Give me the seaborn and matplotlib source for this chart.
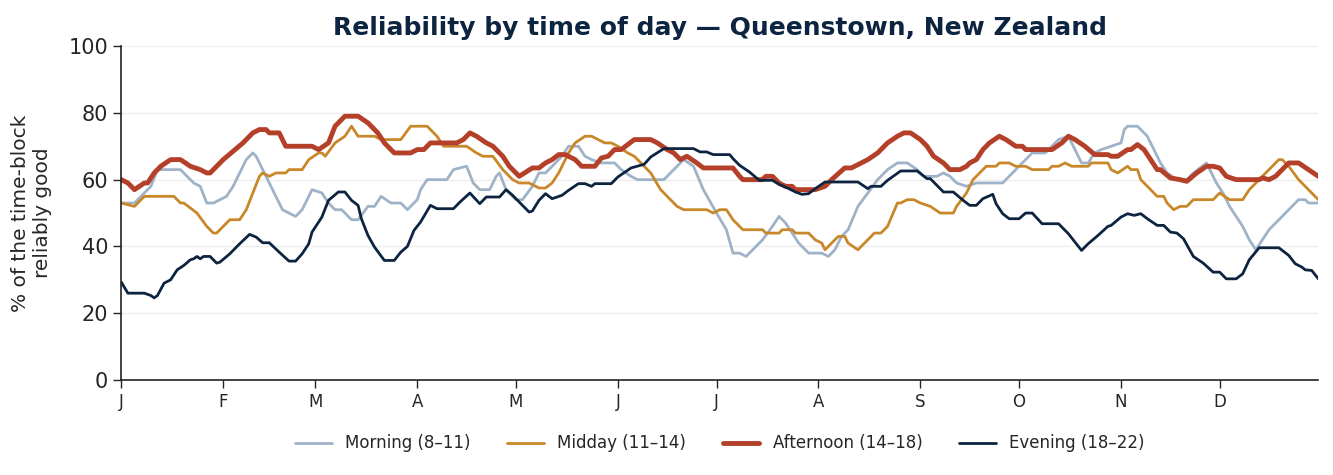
import pandas as pd
import numpy as np
import matplotlib
matplotlib.use('Agg')
import matplotlib.pyplot as plt
import matplotlib.dates as mdates
import seaborn as sns

# day-of-year positions and % reliably good
morning_day = [0, 4, 7, 9, 11, 13, 18, 22, 24, 26, 28, 30, 32, 34, 36, 38, 40, 41, 44, 47, 49, 51, 53, 55, 58,
               61, 63, 65, 67, 70, 72, 75, 77, 79, 82, 85, 87, 90, 91, 93, 99, 101, 105, 107, 109, 112, 114, 115, 117, 120,
               122, 125, 127, 129, 131, 134, 136, 139, 141, 143, 146, 150, 152, 155, 157, 165, 167, 169, 171, 174, 177, 181,
               184, 186, 188, 190, 192, 195, 198, 200, 202, 204, 206, 209, 213, 215, 217, 219, 221, 224, 227, 230, 233, 236, 239, 242,
               244, 248, 250, 252, 254, 257, 260, 268, 271, 274, 277, 281, 285, 288, 290, 292, 294, 296, 298, 301, 304,
               305, 306, 309, 312, 314, 316, 318, 321, 324, 326, 330, 333, 335, 337, 339, 341, 343, 345, 347, 349, 352, 355, 358, 360, 361, 364]
morning_pct = [53, 53, 56, 58, 63, 63, 63, 59, 58, 53, 53, 54, 55, 58, 62, 66, 68, 67, 61, 55, 51, 50, 49, 51, 57,
               56, 53, 51, 51, 48, 48, 52, 52, 55, 53, 53, 51, 54, 57, 60, 60, 63, 64, 59, 57, 57, 61, 62, 57, 54,
               54, 58, 62, 62, 64, 67, 70, 70, 67, 66, 65, 65, 63, 61, 60, 60, 62, 64, 66, 64, 57, 50,
               45, 38, 38, 37, 39, 42, 46, 49, 47, 44, 41, 38, 38, 37, 39, 43, 45, 52, 56, 60, 63, 65, 65, 63,
               61, 61, 62, 61, 59, 58, 59, 59, 62, 65, 68, 68, 72, 73, 69, 65, 65, 68, 69, 70, 71,
               75, 76, 76, 73, 69, 65, 62, 60, 60, 62, 65, 59, 56, 52, 49, 46, 42, 39, 42, 45, 48, 51, 54, 54, 53, 53]

midday_day = [0, 4, 7, 16, 18, 19, 23, 26, 28, 29, 31, 33, 36, 38, 40, 42, 43, 45, 47, 50, 51, 55, 57, 60,
              61, 62, 65, 68, 70, 72, 77, 79, 85, 88, 93, 96, 98, 105, 108, 110, 113, 116, 119, 121,
              124, 127, 129, 131, 133, 136, 138, 141, 143, 145, 147, 149, 151, 154, 156, 159, 161, 164, 166, 169, 171, 178, 180, 182,
              184, 186, 189, 195, 196, 200, 201, 204, 205, 209, 211, 213, 214, 216, 218, 220, 221, 224, 226, 227, 229, 231, 233, 236, 237, 239, 241, 243,
              246, 249, 253, 254, 257, 259, 263, 266, 267, 270, 272, 275, 277, 282, 283, 285, 287, 289, 294, 295, 300, 301, 303,
              306, 307, 309, 310, 312, 315, 317, 318, 320, 322, 324, 326, 332, 334, 337, 341, 343, 346, 349, 352, 353, 355, 358, 361, 364]
midday_pct = [53, 52, 55, 55, 53, 53, 50, 46, 44, 44, 46, 48, 48, 51, 56, 61, 62, 61, 62, 62, 63, 63, 66, 68,
              68, 67, 71, 73, 76, 73, 73, 72, 72, 76, 76, 73, 70, 70, 68, 67, 67, 63, 60, 59,
              59, 57.5, 57.5, 59, 62, 68, 71, 73, 73, 72, 71, 71, 70, 68, 67, 64, 62, 57, 55, 52, 51, 51, 50, 51,
              51, 48, 45, 45, 44, 44, 45, 45, 44, 44, 42, 41, 39, 41, 43, 43, 41, 39, 41, 42, 44, 44, 46, 53, 53, 54, 54, 53,
              52, 50, 50, 52, 56, 60, 64, 64, 65, 65, 64, 64, 63, 63, 64, 64, 65, 64, 64, 65, 65, 63, 62,
              64, 63, 63, 60, 58, 55, 55, 53, 51, 52, 52, 54, 54, 56, 54, 54, 57, 60, 63, 66, 66, 64, 60, 57, 54]

afternoon_day = [0, 2, 4, 7, 8, 10, 12, 15, 18, 21, 24, 26, 27, 29, 31, 37, 40, 42, 44, 45, 48, 50, 52, 58, 60,
                 63, 65, 68, 72, 75, 78, 80, 83, 88, 90, 92, 94, 96, 97, 102, 104, 106, 108, 111, 113, 116, 118, 121,
                 125, 127, 129, 131, 133, 135, 138, 140, 144, 146, 148, 150, 152, 156, 161, 163, 166, 168, 170, 172, 175, 177, 184,
                 186, 188, 189, 195, 196, 198, 200, 202, 204, 205, 211, 214, 216, 220, 222, 225, 227, 230, 233, 236, 238, 240, 243,
                 245, 247, 250, 252, 255, 257, 258, 260, 262, 264, 267, 269, 272, 274, 275, 283, 286, 288, 290, 293, 296, 300, 301, 303,
                 306, 307, 309, 311, 313, 315, 316, 319, 322, 324, 327, 330, 332, 334, 336, 339, 346, 347, 349, 351, 353, 355, 358, 361, 364]
afternoon_pct = [60, 59, 57, 59, 59, 62, 64, 66, 66, 64, 63, 62, 62, 64, 66, 71, 74, 75, 75, 74, 74, 70, 70, 70, 69,
                 71, 76, 79, 79, 77, 74, 71, 68, 68, 69, 69, 71, 71, 71, 71, 72, 74, 73, 71, 70, 67, 64, 61,
                 63.5, 63.5, 65, 66, 67.5, 67.5, 66, 64, 64, 66.5, 67, 69, 69, 72, 72, 71, 69, 68, 66, 67, 65, 63.5, 63.5,
                 63.5, 61, 60, 60, 61, 61, 59, 58, 58, 57, 57, 58, 60, 63.5, 63.5, 65, 66, 68, 71, 73, 74, 74, 72,
                 70, 67, 65, 63, 63, 64, 65, 66, 69, 71, 73, 72, 70, 70, 69, 69, 71, 73, 72, 70, 67.5, 67.5, 67, 67,
                 69, 69, 70.5, 69, 66, 63, 63, 60.5, 60, 59.5, 62, 64, 64, 63.5, 61, 60, 60, 60.5, 60, 61, 63, 65, 65, 63, 61]

evening_day = [0, 2, 7, 9, 10, 11, 13, 15, 17, 19, 21, 22, 23, 24, 25, 27, 29, 30, 33, 36, 39, 41, 43, 45, 48, 51, 53, 55, 57, 58,
               61, 63, 66, 68, 70, 72, 73, 75, 77, 80, 83, 85, 87, 89, 91, 94, 96, 101, 103, 106, 109, 111, 115, 117, 119, 121,
               124, 125, 127, 129, 131, 134, 136, 139, 141, 143, 144, 149, 151, 155, 159, 161, 165, 174, 176, 178, 180,
               185, 186, 188, 191, 194, 198, 200, 203, 205, 207, 209, 211, 214, 224, 227, 228, 231, 233, 237, 242, 245,
               246, 250, 253, 256, 258, 260, 262, 265, 266, 268, 270, 273, 275, 277, 280, 285, 288, 290, 292, 294, 297, 300, 301, 304,
               306, 308, 310, 312, 315, 317, 319, 321, 323, 326, 329, 332, 334, 336, 339, 341, 343, 346, 352, 355, 357, 359, 360, 362, 364]
evening_pct = [29.3, 26, 26, 25.3, 24.6, 25.3, 29, 30, 33, 34.3, 36, 36.3, 37, 36.3, 37, 37, 35, 35.3, 37.8, 40.8, 43.6, 42.8, 41.1, 41.1, 38.3, 35.6, 35.6, 37.8, 40.8, 44.3,
               48.8, 53.8, 56.3, 56.3, 53.8, 52.3, 48.3, 43.3, 39.8, 35.8, 35.8, 38.3, 40, 44.8, 47.3, 52.3, 51.3, 51.3, 53.3, 56, 52.8, 54.8, 54.8, 57, 55.3, 53.3,
               50.3, 50.6, 53.8, 55.8, 54.3, 55.3, 56.8, 58.8, 58.8, 58, 58.8, 58.8, 60.8, 63.5, 64.6, 66.8, 69.3, 69.3, 68.3, 68.3, 67.5,
               67.5, 66.3, 64.3, 62.3, 59.8, 59.8, 58.6, 57.3, 56.3, 55.6, 55.8, 57.3, 59.3, 59.3, 57.3, 58, 58, 59.8, 62.6, 62.6, 60.3,
               60.3, 56.3, 56.3, 53.8, 52.3, 52.3, 54.3, 55.6, 52.8, 49.8, 48.3, 48.3, 50, 50, 46.8, 46.8, 43.8, 41.3, 38.8, 40.8, 43.3, 46, 46.3, 48.8,
               49.8, 49.3, 49.8, 48.3, 46.3, 46.3, 44.3, 44, 42.3, 37, 35, 32.3, 32.3, 30.3, 30.3, 31.8, 36, 39.6, 39.6, 37.3, 34.8, 33.8, 33, 32.8, 30.3]

series = [
    ('Morning (8–11)', morning_day, morning_pct, '#9fb3c8', 2.0),
    ('Midday (11–14)', midday_day, midday_pct, '#c8882a', 2.0),
    ('Afternoon (14–18)', afternoon_day, afternoon_pct, '#b5402a', 3.5),
    ('Evening (18–22)', evening_day, evening_pct, '#0d2440', 2.0),
]

start = pd.Timestamp('2023-01-01')

sns.set_style('white')
plt.rcParams['font.family'] = ['DejaVu Sans']

fig, ax = plt.subplots(figsize=(13.33, 4.75), dpi=100)
fig.subplots_adjust(left=0.091, right=0.989, top=0.903, bottom=0.2)

for name, days, pct, color, lw in series:
    df = pd.DataFrame({'date': start + pd.to_timedelta(days, unit='D'), 'pct': pct})
    sns.lineplot(data=df, x='date', y='pct', ax=ax, color=color, linewidth=lw, label=name)

ax.set_xlim(start, pd.Timestamp('2023-12-31'))
ax.set_ylim(0, 100)
ax.set_yticks([0, 20, 40, 60, 80, 100])
ax.tick_params(axis='y', labelsize=15, length=6, width=1, left=True)
ax.tick_params(axis='x', labelsize=12, length=6, width=1, bottom=True)
ax.xaxis.set_major_locator(mdates.MonthLocator())
ax.xaxis.set_major_formatter(plt.FuncFormatter(lambda v, p: mdates.num2date(v).strftime('%b')[0]))
ax.grid(axis='y', color='#eeeeee', linewidth=1)
ax.set_axisbelow(True)
sns.despine(ax=ax)
for s in ['left', 'bottom']:
    ax.spines[s].set_color('#222222')
    ax.spines[s].set_linewidth(1.2)

ax.set_xlabel('')
ax.set_ylabel('% of the time-block\nreliably good', fontsize=14.5, labelpad=12)
ax.set_title('Reliability by time of day — Queenstown, New Zealand',
             fontsize=18, fontweight='bold', color='#0d2440', pad=8)

ax.legend(loc='center', bbox_to_anchor=(0.5, -0.19), ncol=4, frameon=False,
          fontsize=12, handlelength=2.2, columnspacing=2.2)

fig.savefig('out.png', dpi=100)
